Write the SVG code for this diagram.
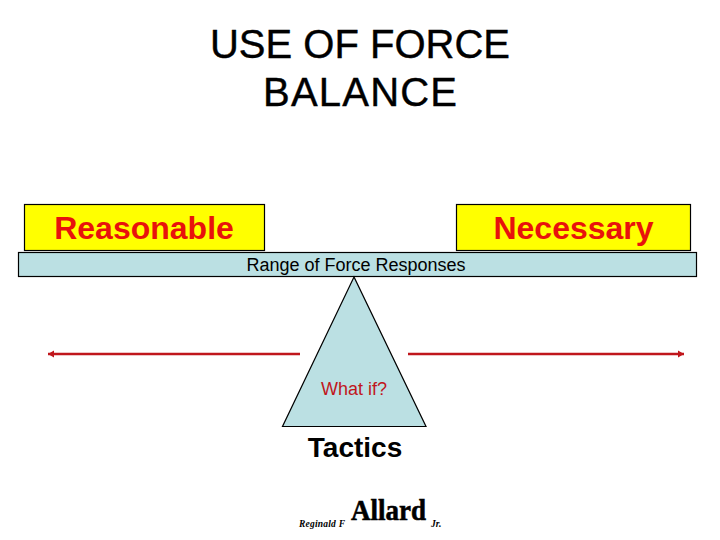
<svg xmlns="http://www.w3.org/2000/svg" width="720" height="540" viewBox="0 0 720 540">
<style>
text{font-family:"Liberation Sans",Arial,sans-serif;text-anchor:middle}
.box{fill:#ffff00;stroke:#000;stroke-width:1.2}
.teal{fill:#bbe0e3;stroke:#000;stroke-width:1.2}
.big{font-size:32px;font-weight:bold;fill:#e8120c}
.title{font-size:40px;fill:#000;stroke:#000;stroke-width:.4}
.small{font-size:18px}
.conn{stroke:#c0161c;stroke-width:2.4;fill:none}
.logo{font-family:"Liberation Serif",serif;font-weight:bold;text-anchor:start;fill:#000}
</style>
<defs>
<marker id="a" markerUnits="userSpaceOnUse" markerWidth="8" markerHeight="8" refX="6" refY="4" orient="auto-start-reverse"><path d="M0 .5L6 4L0 7.500Z" fill="#c0161c"/></marker>
</defs>
<rect width="720" height="540" fill="#fff"/>
<g id="title"><text class="title" x="360" y="58">USE OF FORCE</text><text class="title" x="360" y="106" textLength="194">BALANCE</text></g>
<g id="reasonable"><rect class="box" x="24.5" y="204.500" width="240" height="46"/><text class="big" x="144" y="239">Reasonable</text></g>
<g id="necessary"><rect class="box" x="456.5" y="204.500" width="234" height="46"/><text class="big" x="573.500" y="239">Necessary</text></g>
<g id="range"><rect class="teal" x="18.5" y="252.500" width="678" height="24"/><text class="small" x="356" y="270.500" fill="#000">Range of Force Responses</text></g>
<g id="tactics"><path class="teal" d="M354 277L282.500 426.500H426Z"/><text class="small" x="354" y="395" fill="#c0161c">What if?</text><text x="355" y="457" font-size="28" font-weight="bold" fill="#000">Tactics</text></g>
<g id="connectors"><path class="conn" d="M300 354H48" marker-end="url(#a)"/><path class="conn" d="M408 354H684" marker-end="url(#a)"/></g>
<g id="logo"><text class="logo" x="299" y="527" font-size="9.500" font-style="italic" textLength="46">Reginald F</text><text class="logo" transform="translate(351 520) scale(.9 1)" font-size="30" stroke="#000" stroke-width=".6">Allard</text><text class="logo" x="431" y="527" font-size="9.500" font-style="italic">Jr.</text></g>
</svg>
